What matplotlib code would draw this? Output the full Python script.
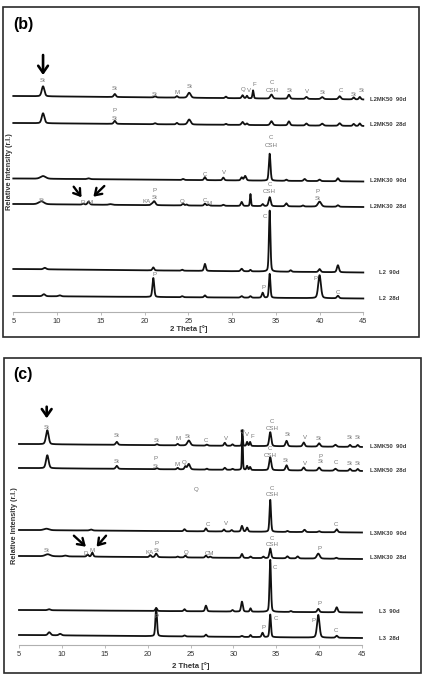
import numpy as np
import matplotlib
matplotlib.use('Agg')
import matplotlib.pyplot as plt
from matplotlib.patches import Rectangle

plt.rcParams['font.family'] = ['Liberation Sans', 'DejaVu Sans']

W, H = 424, 675
two_theta = np.linspace(5, 45, 4001)

# ---------------- panel (b) data ----------------
# peaks: (2theta, height, half width); heights in plot units (~px)
b_names = ['L2MK50  90d', 'L2MK50  28d', 'L2MK30  90d', 'L2MK30  28d', 'L2  90d', 'L2  28d']
b_base = [(216, 212.5), (189, 186), (133.5, 130.5), (108, 105), (43, 39.5), (16, 13.5)]
l2mk50_90d = [(8.4, 10, .18), (16.6, 3, .14), (21.2, 1, .14), (23.7, 1.5, .12), (25.1, 5, .2),
              (29.3, 1.5, .12), (31.2, 3, .12), (31.7, 2.5, .1), (32.4, 8, .08), (34.5, 4, .16),
              (36.5, 4, .14), (38.5, 2, .14), (40.3, 2, .16), (42.3, 3, .16), (43.9, 2, .12), (44.6, 2.5, .12)]
l2mk50_28d = [(8.4, 10, .18), (16.6, 3, .14), (21.2, 1, .14), (23.7, 1.5, .12), (25.1, 5, .2),
              (29.3, 1, .12), (31.2, 3, .14), (31.7, 1.5, .12), (34.5, 4, .16), (36.5, 4, .14),
              (38.5, 2, .14), (40.3, 2, .16), (42.3, 2.5, .16), (43.9, 2, .12), (44.6, 2.5, .12)]
l2mk30_90d = [(8.4, 2.7, .35), (13.6, 0.8, .18), (24.4, 1, .12), (26.9, 3, .12), (29.0, 2.7, .12),
              (31.1, 3, .12), (31.5, 4.5, .14), (34.3, 27, .11), (36.2, 1.2, .12), (38.3, 2, .14),
              (40.0, 1.5, .14), (42.1, 3, .14)]
l2mk30_28d = [(8.2, 3, .35), (13.0, 1, .12), (13.6, 3, .14), (16.1, 0.7, .22), (20.8, 1, .12),
              (21.1, 4, .17), (24.4, 2, .12), (24.8, 1, .12), (26.9, 2, .12), (27.3, 1, .12),
              (29.0, 1, .12), (31.1, 4, .12), (32.1, 12, .07), (33.5, 2, .12), (34.3, 9, .14),
              (36.2, 3, .14), (38.1, 1, .12), (40.0, 5, .22), (42.1, 1.5, .14)]
l2_90d = [(8.6, 1.5, .18), (21.0, 3, .12), (24.3, 1, .12), (26.9, 7, .12), (31.1, 2.5, .14),
          (32.1, 1.5, .1), (34.3, 61, .1), (36.7, 1.5, .12), (40.0, 3, .14), (42.1, 7, .14)]
l2_28d = [(8.5, 2, .18), (10.3, 1, .18), (21.0, 19, .12), (24.3, 1, .12), (26.9, 2, .12),
          (31.1, 1.5, .14), (32.1, 1.5, .12), (33.5, 5, .12), (34.3, 24, .1), (40.0, 23, .18),
          (42.1, 2.5, .14)]
b_peaks = [l2mk50_90d, l2mk50_28d, l2mk30_90d, l2mk30_28d, l2_90d, l2_28d]

b_labels = [
    (8.3, 231, 'St'), (16.6, 223, 'St'), (21.2, 218, 'St'), (23.7, 220, 'M'), (25.1, 225, 'St'),
    (31.3, 223, 'Q'), (31.9, 221, 'V'), (32.5, 228, 'F'), (34.6, 229, 'C'), (34.6, 221.5, 'CSH'),
    (36.6, 222, 'St'), (38.6, 220.5, 'V'), (40.3, 219.5, 'St'), (42.5, 221, 'C'), (43.9, 217.5, 'St'),
    (44.8, 221, 'St'),
    (16.6, 201, 'P'), (16.6, 193.5, 'St'),
    (34.45, 174.5, 'C'), (34.45, 166.5, 'CSH'), (26.9, 138, 'C'), (29.1, 139.5, 'V'),
    (8.2, 111, 'St'), (12.9, 109.5, 'D'), (13.8, 109.5, 'M'), (20.2, 110.5, 'KA'), (21.1, 121.5, 'P'),
    (21.1, 114.5, 'St'), (24.3, 111, 'Q'), (26.9, 112, 'C'), (27.4, 108.5, 'M'), (34.3, 128, 'C'),
    (34.3, 120.5, 'CSH'), (39.8, 120.5, 'P'), (39.8, 113, 'St'),
    (33.8, 95.5, 'C'),
    (21.1, 37, 'P'), (33.6, 24.5, 'P'), (39.5, 33.5, 'P'), (42.1, 19.5, 'C'),
]
b_name_x = [45.8, 45.8, 45.8, 45.8, 46.8, 46.8]
b_name_y = [212.5, 187.5, 132, 105.5, 40, 13]

# ---------------- panel (c) data ----------------
c_names = ['L3MK50  90d', 'L3MK50  28d', 'L3MK30  90d', 'L3MK30  28d', 'L3  90d', 'L3  28d']
c_base = [(201, 198), (177, 174), (115, 112.5), (89, 86), (35, 32.5), (10, 7)]
l3mk50_90d = [(8.3, 14, .18), (16.4, 3, .14), (21.1, 1, .14), (23.5, 1.5, .12), (24.8, 5, .2),
              (26.9, 1, .12), (29.0, 3, .12), (29.9, 1.5, .12), (31.05, 10, .07), (31.6, 4, .09),
              (31.95, 4, .09), (34.3, 14, .14), (36.2, 5.5, .14), (38.2, 4, .14), (40.0, 3.3, .16),
              (41.9, 2, .16), (43.6, 2, .12), (44.5, 2, .12)]
l3mk50_28d = [(8.3, 13, .18), (16.4, 3, .14), (21.1, 1, .14), (23.5, 1.5, .12), (24.4, 3, .12),
              (24.8, 5.5, .17), (26.9, 1, .12), (29.0, 2, .12), (29.9, 1, .12), (31.05, 40, .06),
              (31.6, 4, .09), (31.95, 3, .09), (34.3, 13, .14), (36.2, 5, .14), (38.2, 3, .14),
              (40.0, 3, .16), (41.9, 2, .16), (43.6, 2, .12), (44.5, 2, .12)]
l3mk30_90d = [(8.2, 1.5, .35), (13.4, 1, .18), (24.3, 2, .12), (26.8, 3, .12), (28.9, 2, .12),
              (29.8, 1.5, .12), (31.0, 5.7, .12), (31.6, 4, .12), (34.3, 32, .1), (36.3, 1, .12),
              (38.3, 2.3, .14), (40.0, 1, .14), (42.05, 3, .14)]
l3mk30_28d = [(8.35, 2, .35), (10.4, 0.8, .22), (13.0, 2, .12), (13.55, 4, .12), (20.3, 2, .12),
              (21.0, 3.5, .15), (23.5, 0.8, .12), (24.4, 2, .12), (26.8, 2, .12), (27.3, 1, .12),
              (31.0, 4, .12), (32.0, 1.5, .12), (33.5, 1.5, .12), (34.3, 9.7, .12), (36.3, 2, .14),
              (37.5, 2, .14), (39.9, 5, .2), (42.0, 1, .14)]
l3_90d = [(8.5, 1, .18), (21.0, 3, .12), (24.3, 2, .12), (26.8, 5.7, .12), (29.9, 1.5, .12),
          (31.0, 10, .12), (32.0, 3.3, .1), (34.3, 52, .1), (36.7, 1, .12), (39.9, 3.3, .14),
          (42.05, 5, .14)]
l3_28d = [(8.53, 3, .18), (9.8, 1.5, .18), (21.0, 28, .11), (24.3, 1, .12), (26.8, 2, .12),
          (31.0, 1, .14), (32.0, 2, .1), (33.4, 4.3, .12), (34.3, 22.7, .1), (39.9, 22.7, .17),
          (42.05, 2, .14)]
c_peaks = [l3mk50_90d, l3mk50_28d, l3mk30_90d, l3mk30_28d, l3_90d, l3_28d]

c_labels = [
    (8.23, 217.5, 'St'), (16.4, 209.5, 'St'), (21.0, 205, 'St'), (23.5, 206.5, 'M'), (24.7, 209, 'St'),
    (26.8, 205, 'C'), (29.1, 207, 'V'), (31.0, 213.5, 'Q'), (31.6, 211, 'V'), (32.2, 209, 'F'),
    (34.5, 223.5, 'C'), (34.5, 216.5, 'CSH'), (36.3, 210, 'St'), (38.3, 207.5, 'V'), (40.0, 206, 'St'),
    (43.6, 207.5, 'St'), (44.5, 207.5, 'St'),
    (16.4, 183.5, 'St'), (20.9, 186.5, 'P'), (20.9, 178.5, 'St'), (23.4, 180, 'M'), (24.3, 182.5, 'Q'),
    (34.3, 196.5, 'C'), (34.3, 189.5, 'CSH'), (36.1, 184, 'St'), (38.3, 181.5, 'V'), (40.2, 189, 'P'),
    (40.2, 183.5, 'St'), (42.0, 182.5, 'C'), (43.6, 181.5, 'St'), (44.5, 181.5, 'St'),
    (25.6, 155.5, 'Q'), (34.5, 156, 'C'), (34.5, 150, 'CSH'), (27.0, 120, 'C'), (29.1, 121.5, 'V'),
    (42.0, 121, 'C'),
    (8.2, 95, 'St'), (12.8, 91.5, 'D'), (13.5, 94, 'M'), (20.2, 92.5, 'KA'), (21.0, 101.5, 'P'),
    (21.1, 94, 'St'), (24.5, 92.5, 'Q'), (27.2, 91.5, 'CM'), (34.5, 106.5, 'C'), (34.5, 101, 'CSH'),
    (40.0, 96.5, 'P'),
    (34.8, 77.5, 'C'), (40.0, 41.5, 'P'),
    (21.0, 29, 'P'), (35.0, 26.5, 'C'), (33.5, 17.5, 'P'), (39.3, 25, 'P'), (42.0, 15, 'C'),
]
c_name_x = [45.9, 45.9, 45.9, 45.9, 47.0, 47.0]
c_name_y = [199, 175, 111.5, 87.5, 33.5, 6.5]

ticks = [5, 10, 15, 20, 25, 30, 35, 40, 45]


def pattern(peaks, base):
    y = np.linspace(base[0], base[1], two_theta.size)
    for p, h, w in peaks:
        g = np.exp(-0.5 * ((two_theta - p) / (w / 1.1774)) ** 2)
        l = 1.0 / (1 + ((two_theta - p) / w) ** 2)
        y = y + h * (0.7 * g + 0.3 * l)
    return y


def px(x0, y0, x1, y1):
    return [x0 / W, 1 - y1 / H, (x1 - x0) / W, (y1 - y0) / H]


fig = plt.figure(figsize=(W / 100, H / 100), dpi=100)
fig.patch.set_facecolor('white')

panels = [
    dict(ax=px(13.3, 20, 363.3, 312), top=292, frame=(3, 7, 419, 337), letter='(b)', lpos=(23, 24),
         xlab=329, ylab=(9.5, 172), peaks=b_peaks, base=b_base, labels=b_labels,
         names=b_names, nx=b_name_x, ny=b_name_y,
         down=(8.4, 257, 237), diag=[((11.9, 125.3), (12.8, 114.7)), ((15.4, 126), (14.15, 115.3))]),
    dict(ax=px(19, 360, 362, 645), top=285, frame=(4, 358, 420.5, 673), letter='(c)', lpos=(23, 374),
         xlab=666, ylab=(14, 526), peaks=c_peaks, base=c_base, labels=c_labels,
         names=c_names, nx=c_name_x, ny=c_name_y,
         down=(8.23, 238.3, 226.7), diag=[((11.4, 109.3), (12.8, 98.3)), ((15.15, 109.3), (14.05, 98.3))]),
]

for P in panels:
    ax = fig.add_axes(P['ax'])
    ax.set_xlim(5, 45)
    ax.set_ylim(0, P['top'])
    ax.patch.set_alpha(0)
    for s in ['left', 'right', 'top']:
        ax.spines[s].set_visible(False)
    ax.spines['bottom'].set_color('#b0b0b0')
    ax.spines['bottom'].set_linewidth(0.8)
    ax.set_yticks([])
    ax.set_xticks(ticks)
    ax.tick_params(axis='x', length=2.5, width=0.6, color='#b0b0b0', pad=1.5,
                   labelsize=5.4, labelcolor='#333333')

    for peaks, base in zip(P['peaks'], P['base']):
        ax.plot(two_theta, pattern(peaks, base), color='#111111', lw=1.3, clip_on=False)

    for x, y, t in P['labels']:
        ax.text(x, y, t, fontsize=4.4, color='#767676', ha='center', va='center')

    for t, x, y in zip(P['names'], P['nx'], P['ny']):
        ax.text(x, y, t, fontsize=4.2, fontweight='bold', color='#3a3a3a', ha='left', va='center',
                clip_on=False)

    dx, dy0, dy1 = P['down']
    ax.annotate('', xy=(dx, dy1), xytext=(dx, dy0),
                arrowprops=dict(arrowstyle='->, head_length=0.5, head_width=0.35', lw=1.9,
                                color='black', shrinkA=0, shrinkB=0, mutation_scale=10))
    for tail, tip in P['diag']:
        ax.annotate('', xy=tip, xytext=tail,
                    arrowprops=dict(arrowstyle='->, head_length=0.45, head_width=0.3', lw=1.7,
                                    color='black', shrinkA=0, shrinkB=0, mutation_scale=10))

    x0, y0, x1, y1 = P['frame']
    fig.patches.append(Rectangle((x0 / W, 1 - y1 / H), (x1 - x0) / W, (y1 - y0) / H,
                                 transform=fig.transFigure, fill=False, lw=1.2, ec='#2a2a2a'))
    fig.text(P['lpos'][0] / W, 1 - P['lpos'][1] / H, P['letter'], fontsize=11.5,
             fontweight='bold', ha='center', va='center')
    fig.text((P['ax'][0] + P['ax'][2] / 2), 1 - P['xlab'] / H, '2 Theta [°]', fontsize=5.6,
             fontweight='bold', color='#333333', ha='center', va='center')
    fig.text(P['ylab'][0] / W, 1 - P['ylab'][1] / H, 'Relative Intensity (r.I.)', fontsize=5.3,
             fontweight='bold', color='#333333', rotation=90, ha='center', va='center')

fig.savefig('out.png', dpi=100)
